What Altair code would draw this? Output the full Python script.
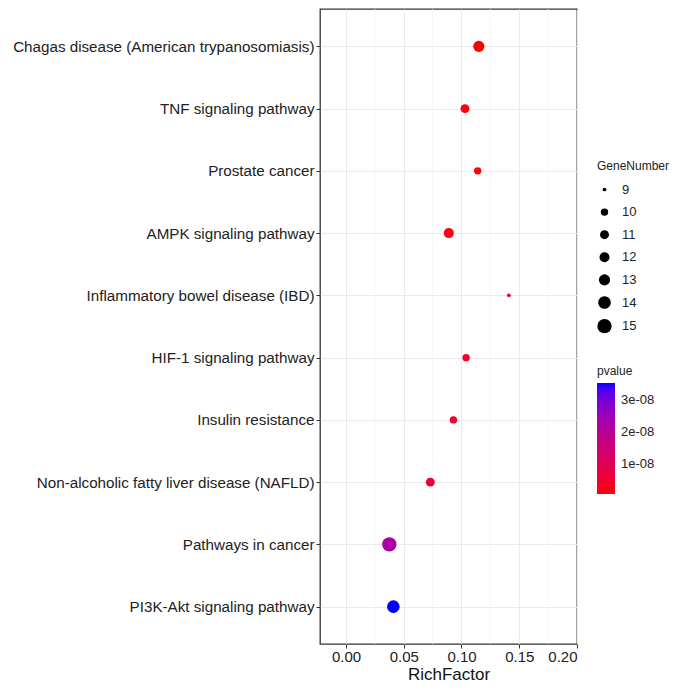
import altair as alt
import pandas as pd

pathways = [
    "Chagas disease (American trypanosomiasis)",
    "TNF signaling pathway",
    "Prostate cancer",
    "AMPK signaling pathway",
    "Inflammatory bowel disease (IBD)",
    "HIF-1 signaling pathway",
    "Insulin resistance",
    "Non-alcoholic fatty liver disease (NAFLD)",
    "Pathways in cancer",
    "PI3K-Akt signaling pathway",
]
rich_factor = [0.115, 0.103, 0.114, 0.089, 0.141, 0.104, 0.093, 0.073, 0.0375, 0.041]
gene_number = [13, 11, 10, 12, 9, 10, 10, 11, 15, 14]
pvalue = [4e-10, 8e-10, 1e-09, 1.5e-09, 6e-09, 3e-09, 4.5e-09, 5.5e-09, 2.2e-08, 3.55e-08]

x_ticks = [0.0, 0.05, 0.10, 0.15, 0.20]
minor_grid = [0.025, 0.075, 0.125, 0.175]
size_levels = [9, 10, 11, 12, 13, 14, 15]
size_areas = [14, 55, 80, 100, 125, 160, 205]
p_ticks = [1e-08, 2e-08, 3e-08]

df = pd.DataFrame({
    "Pathway": pathways,
    "RichFactor": rich_factor,
    "GeneNumber": gene_number,
    "pvalue": pvalue,
})
minor_df = pd.DataFrame({"RichFactor": minor_grid})

FONT = "Liberation Sans"

x_enc = alt.X(
    "RichFactor:Q",
    scale=alt.Scale(domain=[-0.0225, 0.2], nice=False, zero=False),
    axis=alt.Axis(
        values=x_ticks, format=".2f", title="RichFactor",
        grid=True, gridColor="#EBEBEB", gridWidth=1,
        domain=False, tickColor="#333333", tickSize=4, tickWidth=1,
        labelFontSize=15, labelColor="#222222", labelPadding=1,
        titleFontSize=17, titleFontWeight="normal", titleColor="#111111", titlePadding=2,
    ),
)

minor = alt.Chart(minor_df).mark_rule(color="#F2F2F2", strokeWidth=0.8).encode(
    x=alt.X("RichFactor:Q")
)

points = alt.Chart(df).mark_circle(opacity=1).encode(
    x=x_enc,
    y=alt.Y(
        "Pathway:N",
        sort=pathways,
        scale=alt.Scale(type="point", padding=0.6),
        axis=alt.Axis(
            title=None, grid=True, gridColor="#EBEBEB", gridWidth=1,
            domain=False, tickColor="#333333", tickSize=4, tickWidth=1,
            labelFontSize=15.2, labelColor="#222222", labelPadding=2, labelLimit=400,
        ),
    ),
    size=alt.Size(
        "GeneNumber:Q",
        scale=alt.Scale(type="linear", domain=size_levels, range=size_areas),
        legend=alt.Legend(
            title="GeneNumber", values=size_levels, orient="none",
            legendX=277, legendY=152, symbolFillColor="black", symbolStrokeWidth=0,
            symbolType="circle", labelFontSize=13, titleFontSize=12,
            titleFontWeight="normal", titlePadding=10, rowPadding=8.6, labelOffset=10,
        ),
    ),
    color=alt.Color(
        "pvalue:Q",
        scale=alt.Scale(domain=[4e-10, 3.55e-08], range=["#FF0000", "#0000FF"], interpolate="lab"),
        legend=alt.Legend(
            title="pvalue", values=p_ticks, orient="none", direction="vertical",
            legendX=277, legendY=357, gradientLength=111, gradientThickness=18,
            gradientStrokeWidth=0, labelFontSize=13, titleFontSize=12,
            titleFontWeight="normal", labelOffset=6,
            labelExpr="replace(format(datum.value, '.0e'), 'e-', 'e-0')",
        ),
    ),
)

chart = alt.layer(minor, points).properties(
    width=257, height=635,
    autosize=alt.AutoSizeParams(type="none"),
    padding={"left": 312, "top": 1, "right": 95, "bottom": 40},
).configure(
    font=FONT
).configure_view(
    stroke="#333333", strokeWidth=1.3
).configure_legend(
    labelColor="#222222", titleColor="#222222"
)

chart.save("out.html", embed_options={"renderer": "svg", "actions": False})
